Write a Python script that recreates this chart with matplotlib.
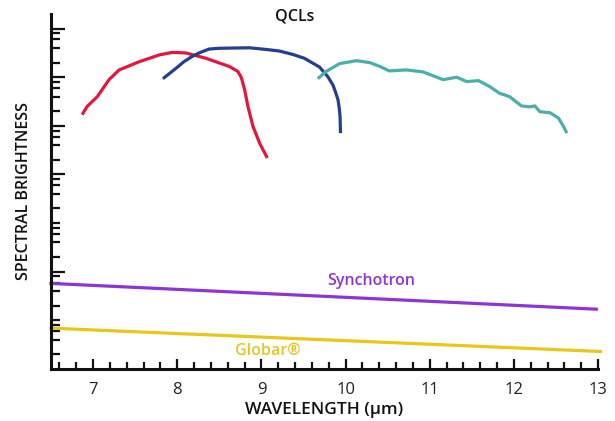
import numpy as np
import matplotlib
matplotlib.use("Agg")
import matplotlib.pyplot as plt
from matplotlib.ticker import FixedLocator, NullFormatter

plt.rcParams['font.family'] = ['Open Sans', 'DejaVu Sans']

# wavelength (um) and log10 of spectral brightness
red_wl = [6.87, 6.93, 7.05, 7.19, 7.31, 7.55, 7.79, 7.94, 8.10, 8.34, 8.62, 8.72, 8.76, 8.80, 8.84, 8.90, 8.98, 9.07]
red_lg = [5.23, 5.40, 5.60, 5.95, 6.15, 6.32, 6.46, 6.51, 6.50, 6.39, 6.22, 6.12, 6.00, 5.75, 5.40, 4.99, 4.64, 4.34]

blue_wl = [7.83, 7.99, 8.08, 8.18, 8.26, 8.38, 8.50, 8.66, 8.86, 9.06, 9.21, 9.37, 9.51,
           9.69, 9.79, 9.85, 9.88, 9.91, 9.925, 9.935, 9.94]
blue_lg = [5.97, 6.19, 6.32, 6.43, 6.50, 6.58, 6.595, 6.60, 6.605, 6.57, 6.54, 6.47, 6.39,
           6.21, 6.01, 5.84, 5.70, 5.54, 5.37, 5.19, 4.85]

teal_wl = [9.67, 9.77, 9.93, 10.13, 10.29, 10.41, 10.52, 10.72, 10.92, 11.16, 11.32, 11.44,
           11.58, 11.71, 11.83, 11.95, 12.09, 12.19, 12.25, 12.31, 12.43, 12.53, 12.59, 12.63]
teal_lg = [5.97, 6.12, 6.28, 6.34, 6.30, 6.22, 6.13, 6.15, 6.11, 5.95, 6.00, 5.91,
           5.93, 5.81, 5.67, 5.60, 5.41, 5.39, 5.41, 5.29, 5.27, 5.16, 4.99, 4.85]

synch_wl = [6.5, 12.98]
synch_lg = [1.76, 1.23]

globar_wl = [6.5, 13.03]
globar_lg = [0.84, 0.36]

x_ticks = [7, 8, 9, 10, 11, 12, 13]

fig = plt.figure(figsize=(6.15, 4.21), dpi=100)
ax = fig.add_axes([51 / 615, 52 / 421, 547 / 615, 355 / 421])

lw = 2.3
ax.plot(red_wl, 10 ** np.array(red_lg), color='#e2173f', lw=lw, solid_capstyle='butt', solid_joinstyle='round')
ax.plot(blue_wl, 10 ** np.array(blue_lg), color='#233f8e', lw=lw, solid_capstyle='butt', solid_joinstyle='round')
ax.plot(teal_wl, 10 ** np.array(teal_lg), color='#4bafa9', lw=lw, solid_capstyle='butt', solid_joinstyle='round')
ax.plot(synch_wl, 10 ** np.array(synch_lg), color='#8d34d4', lw=lw, clip_on=False)
ax.plot(globar_wl, 10 ** np.array(globar_lg), color='#e8c61a', lw=lw, clip_on=False)

ax.set_yscale('log')
ax.set_xlim(6.5, 13)
ax.set_ylim(1, 10 ** 7.3)

for s in ['top', 'right']:
    ax.spines[s].set_visible(False)
for s in ['left', 'bottom']:
    ax.spines[s].set_linewidth(2.2)
    ax.spines[s].set_color('#111111')

# x ticks
ax.set_xticks(x_ticks)
ax.xaxis.set_minor_locator(FixedLocator(np.arange(6.6, 13.0, 0.2)))
ax.tick_params(axis='x', which='major', direction='in', length=7, width=1.6, color='#111111',
               labelsize=12, pad=9, labelcolor='#222222')
ax.tick_params(axis='x', which='minor', direction='in', length=5, width=1.6, color='#111111')

# y ticks (no labels)
y_major = [1e2, 1e4, 1e5, 1e6, 1e7]
y_minor = [m * 10 ** k for k in range(0, 8) for m in (2, 4, 6, 8)] + [1e1, 1e3]
y_minor = [v for v in y_minor if v < 10 ** 7.3]
ax.yaxis.set_major_locator(FixedLocator(y_major))
ax.yaxis.set_minor_locator(FixedLocator(y_minor))
ax.yaxis.set_major_formatter(NullFormatter())
ax.yaxis.set_minor_formatter(NullFormatter())
ax.tick_params(axis='y', which='major', direction='in', length=10, width=1.6, color='#111111')
ax.tick_params(axis='y', which='minor', direction='in', length=6.5, width=1.6, color='#111111')

ax.set_xlabel('WAVELENGTH (µm)', fontsize=12.5, fontweight='semibold', color='#111111', labelpad=3)
ax.set_ylabel('SPECTRAL BRIGHTNESS', fontsize=11.5, fontweight='semibold', color='#111111', labelpad=10)

ax.text(9.39, 10 ** 7.24, 'QCLs', fontsize=11.5, fontweight='semibold', color='#111111',
        ha='center', va='center', clip_on=False)
ax.text(10.30, 10 ** 1.81, 'Synchotron', fontsize=11.5, fontweight='semibold', color='#8d34d4',
        ha='center', va='center')
ax.text(9.07, 10 ** 0.37, 'Globar®', fontsize=11.5, fontweight='semibold', color='#e6c52a',
        ha='center', va='center')

fig.savefig('out.png', dpi=100)
